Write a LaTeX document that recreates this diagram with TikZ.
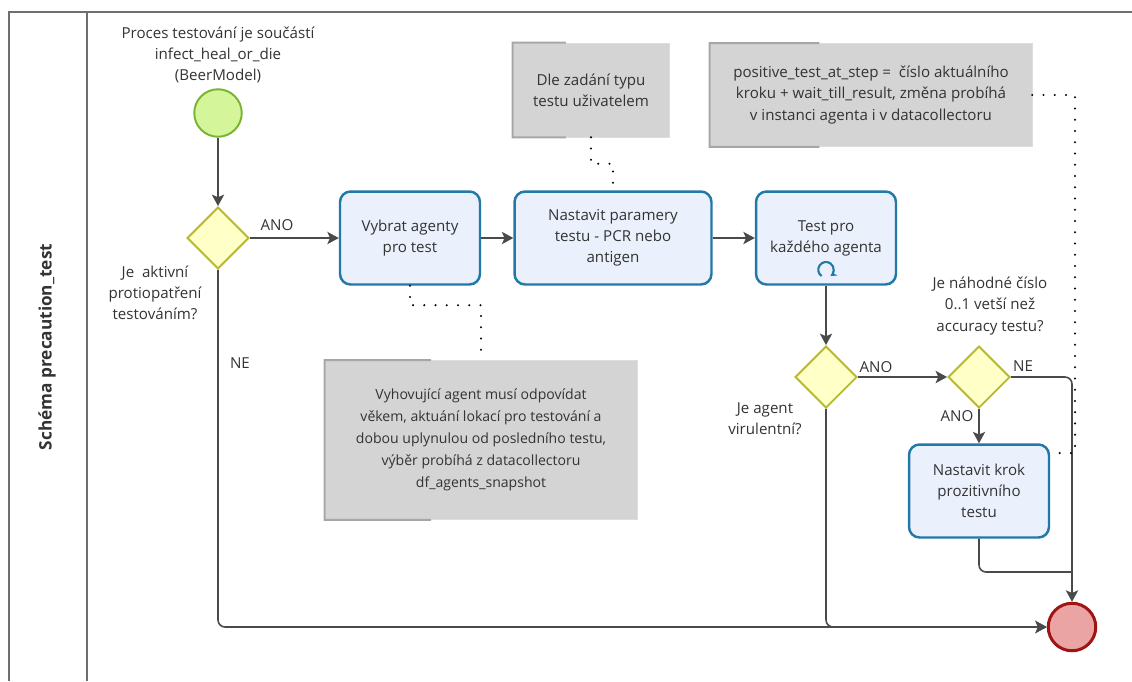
\documentclass[tikz,border=0pt]{standalone}
\usepackage{fontspec}
\setmainfont{Open Sans}
\usepackage{xcolor}
\usepackage{tikz}
\usetikzlibrary{positioning,shapes.geometric,arrows.meta,calc}

\definecolor{taskfill}{HTML}{EAF0FC}
\definecolor{taskline}{HTML}{2278A6}
\definecolor{gatefill}{HTML}{FFFFC8}
\definecolor{gateline}{HTML}{B8B830}
\definecolor{startfill}{HTML}{D4F59A}
\definecolor{startline}{HTML}{78B430}
\definecolor{endfill}{HTML}{EAA4A4}
\definecolor{endline}{HTML}{A01414}
\definecolor{notefill}{HTML}{D4D4D4}
\definecolor{noteline}{HTML}{A6A6A6}
\definecolor{poolline}{HTML}{6E6E6E}
\definecolor{flowline}{HTML}{4A4A4A}
\definecolor{txt}{HTML}{333333}

\begin{document}
\begin{tikzpicture}[x=0.02cm,y=-0.02cm,>={Stealth[length=6.5pt,width=7pt,inset=1.5pt]},
    font=\fontsize{8.6}{12}\selectfont,text=txt]
    \tikzstyle{task}=[rectangle,rounded corners=6pt,draw=taskline,fill=taskfill,line width=1.4pt,
        minimum width=2.8cm,minimum height=1.86cm,align=center,inner sep=2pt]
    \tikzstyle{gate}=[diamond,draw=gateline,fill=gatefill,line width=1.1pt,minimum size=1.24cm,inner sep=0pt]
    \tikzstyle{event}=[circle,minimum size=0.95cm,inner sep=0pt]
    \tikzstyle{start event}=[event,draw=startline,fill=startfill,line width=1.1pt]
    \tikzstyle{end event}=[event,draw=endline,fill=endfill,line width=1.7pt]
    \tikzstyle{note}=[rectangle,fill=notefill,draw=notefill!80,align=center,inner sep=2pt]
    \tikzstyle{bracket}=[draw=noteline,line width=1.1pt]
    \tikzstyle{lbl}=[align=center,inner sep=0pt]
    \tikzstyle{flow}=[->,draw=flowline,line width=0.9pt,rounded corners=4pt]
    \tikzstyle{flow line}=[draw=flowline,line width=0.9pt,rounded corners=4pt]
    \tikzstyle{assoc}=[draw=black,line width=1.3pt,line cap=round,dash pattern=on 0pt off 6.4pt]
    \tikzstyle{pool}=[draw=poolline,line width=1.1pt]

    \useasboundingbox (0,0) rectangle (1132,681);

    % Draw the pool and its lane header
    \draw[pool] (9,681) -- (9,12) -- (1132,12);
    \draw[pool] (87,12) -- (87,681);
    \node[rotate=90,font=\fontsize{9.8}{11}\selectfont\bfseries] (title) at (47,347) {Schéma precaution\_test};

    % Draw the events
    \node[start event] (start) at (218,113) {};
    \node[lbl] (startlbl) at (218,55) {Proces testování je součástí\\infect\_heal\_or\_die\\(BeerModel)};
    \node[end event] (end) at (1072,627) {};

    % Draw the gateways
    \node[gate] (g1) at (218,238) {};
    \node[gate] (g2) at (826,377) {};
    \node[gate] (g3) at (979,377) {};

    % Draw the tasks
    \node[task] (vybrat) at (410,238) {Vybrat agenty\\pro test};
    \node[task,minimum width=3.94cm] (param) at (613,238) {Nastavit paramery\\testu - PCR nebo\\antigen};
    \node[task] (test) at (826,238) {Test pro\\každého agenta};
    \node[task] (krok) at (979,491) {Nastavit krok\\prozitivního\\testu};

    % Loop marker of the task
    \coordinate (loopc) at ($(test.south)+(0,-16)$);
    \draw[draw=taskline,line width=1.2pt,-{Stealth[length=3.5pt,width=4pt]}]
        ([shift={(235:4.4pt)}]loopc) arc[start angle=235,end angle=-55,radius=4.4pt];

    % Draw the annotations
    \node[note,minimum width=3.12cm,minimum height=1.88cm] (dle) at (591,90) {Dle zadání typu\\testu uživatelem};
    \node[note,minimum width=6.44cm,minimum height=2.06cm] (pos) at (871,95)
        {positive\_test\_at\_step =\ \ číslo aktuálního\\kroku + wait\_till\_result, změna probíhá\\v instanci agenta i v datacollectoru};
    \node[note,minimum width=6.24cm,minimum height=3.18cm,font=\fontsize{8}{12.6}\selectfont] (vyh) at (481,440)
        {Vyhovující agent musí odpovídat\\věkem, aktuání lokací pro testování a\\dobou uplynulou od posledního testu,\\výběr probíhá z datacollectoru\\df\_agents\_snapshot};
    \foreach \n in {dle,pos,vyh}
        \draw[bracket] ($(\n.north west)!0.34!(\n.north east)$) -- (\n.north west)
            -- (\n.south west) -- ($(\n.south west)!0.34!(\n.south east)$);

    % Label the gateways and the flows
    \node[lbl] (q1) at (155,293) {Je\ \ aktivní\\protiopatření\\testováním?};
    \node[lbl] (q2) at (765,419) {Je agent\\virulentní?};
    \node[lbl] (q3) at (990,306) {Je náhodné číslo\\0..1 vetší než\\accuracy testu?};
    \node[lbl] (ano1) at (277,225) {ANO};
    \node[lbl] (ne1) at (240,363) {NE};
    \node[lbl] (ano2) at (876,367) {ANO};
    \node[lbl] (ne2) at (1023,366) {NE};
    \node[lbl] (ano3) at (957,416) {ANO};

    % Connect the flow
    \draw[flow] (start) -- (g1);
    \draw[flow] (g1) -- (vybrat);
    \draw[flow] (vybrat) -- (param);
    \draw[flow] (param) -- (test);
    \draw[flow] (test) -- (g2);
    \draw[flow] (g2) -- (g3);
    \draw[flow] (g3) -- (krok);
    \draw[flow] (g3.east) -| (end.north);
    \coordinate (join) at (1072,572);
    \draw[flow line] (krok.south) |- (join);
    \draw[flow] (g1.south) |- (end.west);
    \draw[flow] (g2.south) |- (end.west);

    % Connect the annotations
    \draw[assoc] (dle.south) |- ($(dle.south)!0.5!(param.north)$) -| (param.north);
    \draw[assoc] (vybrat.south) |- ($(vyh.north)+(0,-55)$) -- (vyh.north);
    \coordinate (pk) at (1075,453);
    \draw[assoc] (pos.east) -| (pk) -- (krok.east |- pk);
\end{tikzpicture}
\end{document}
